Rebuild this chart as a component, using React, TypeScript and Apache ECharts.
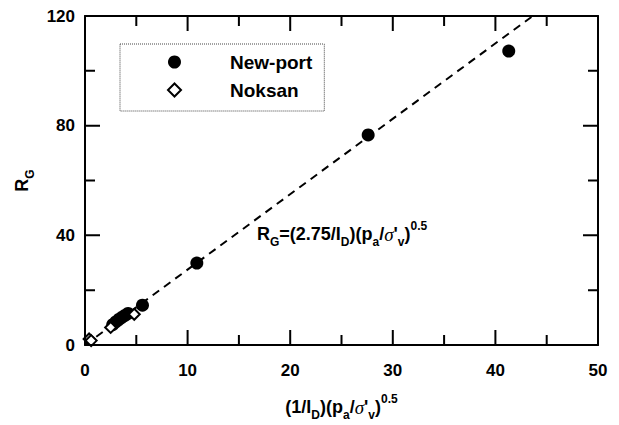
import React, { useEffect, useRef } from "react";
import * as echarts from "echarts";

const newportX = [2.7, 3.0, 3.3, 3.6, 3.9, 4.2, 5.6, 10.9, 27.6, 41.3];
const newportY = [7.4, 8.4, 9.3, 10.1, 10.8, 11.5, 14.5, 29.9, 76.6, 107.2];
const noksanX = [0.4, 0.6, 2.5, 4.8];
const noksanY = [2.2, 1.6, 6.4, 11.2];
const fitSlope = 2.75;
const xTicks = [0, 10, 20, 30, 40, 50];
const xMinorTicks = [5, 15, 25, 35, 45];
const yTicks = [0, 40, 80, 120];
const yMinorTicks = [20, 60, 100];

const FONT = "Arial, 'Liberation Sans', sans-serif";
const W = 619;
const H = 425;
const GRID = { left: 85, top: 16, right: 21, bottom: 80 };
const PLOT_W = W - GRID.left - GRID.right;
const PLOT_H = H - GRID.top - GRID.bottom;
const MAJOR_LEN = 15;
const MINOR_LEN = 10;

const richBase = {
  b: { fontSize: 18, fontWeight: "bold", fontFamily: FONT, lineHeight: 28, color: "#000" },
  sub: { fontSize: 12, fontWeight: "bold", fontFamily: FONT, lineHeight: 12, verticalAlign: "bottom", color: "#000" },
  sup: { fontSize: 12, fontWeight: "bold", fontFamily: FONT, lineHeight: 12, verticalAlign: "top", color: "#000" },
  sig: { fontSize: 19, fontStyle: "italic", fontFamily: "'Liberation Serif', 'DejaVu Serif', serif", lineHeight: 28, color: "#000" },
};

export default function App() {
  const ref = useRef<HTMLDivElement>(null);
  useEffect(() => {
    if (!ref.current) return;
    const chart = echarts.init(ref.current, undefined, { renderer: "svg" });
    const labelStyle = { fontSize: 17, fontWeight: "bold", fontFamily: FONT, color: "#000" };
    const xMin = xTicks[0];
    const xMax = xTicks[xTicks.length - 1];
    const yMin = yTicks[0];
    const yMax = yTicks[yTicks.length - 1];
    const xRange = { min: xMin, max: xMax, interval: 10 };
    const yRange = { min: yMin, max: yMax, interval: 40 };
    const mainLine = { show: true, onZero: false, lineStyle: { color: "#000", width: 2 } };

    // tick lengths expressed in data units of each axis
    const yPerPx = (yMax - yMin) / PLOT_H;
    const xPerPx = (xMax - xMin) / PLOT_W;

    const segs = (pairs: number[][][]) => {
      const out: any[] = [];
      pairs.forEach((p) => {
        out.push(p[0], p[1], "-");
      });
      return out;
    };
    const xAll = [
      ...xTicks.map((v) => [v, MAJOR_LEN]),
      ...xMinorTicks.map((v) => [v, MINOR_LEN]),
    ];
    const yAll = [
      ...yTicks.map((v) => [v, MAJOR_LEN]),
      ...yMinorTicks.map((v) => [v, MINOR_LEN]),
    ];
    const bottomTicks = segs(xAll.map(([v, l]) => [[v, yMin], [v, yMin + l * yPerPx]]));
    const topTicks = segs(xAll.map(([v, l]) => [[v, yMax], [v, yMax - l * yPerPx]]));
    const leftTicks = segs(yAll.map(([v, l]) => [[xMin, v], [xMin + l * xPerPx, v]]));
    const rightTicks = segs(yAll.map(([v, l]) => [[xMax, v], [xMax - l * xPerPx, v]]));

    const tickSeries = (name: string, data: any[]) => ({
      type: "line",
      name,
      data,
      symbol: "none",
      connectNulls: false,
      clip: false,
      silent: true,
      lineStyle: { color: "#000", width: 2, type: "solid" },
      z: 6,
    });

    chart.setOption({
      animation: false,
      backgroundColor: "#fff",
      grid: { ...GRID, containLabel: false, outerBoundsMode: "none" },
      xAxis: [
        {
          type: "value",
          ...xRange,
          position: "bottom",
          axisLine: mainLine,
          axisTick: { show: false },
          splitLine: { show: false },
          axisLabel: { ...labelStyle, margin: 17 },
          name: "{b|(1/I}{sub|D}{b|)(p}{sub|a}{b|/}{sig|σ}{b|'}{sub|v}{b|)}{sup|0.5}",
          nameLocation: "middle",
          nameGap: 48,
          nameTextStyle: { rich: richBase },
        },
        {
          type: "value",
          ...xRange,
          position: "top",
          axisLine: mainLine,
          axisTick: { show: false },
          splitLine: { show: false },
          axisLabel: { show: false },
        },
      ],
      yAxis: [
        {
          type: "value",
          ...yRange,
          position: "left",
          axisLine: mainLine,
          axisTick: { show: false },
          splitLine: { show: false },
          axisLabel: { ...labelStyle, margin: 10 },
          name: "{b|R}{sub|G}",
          nameLocation: "middle",
          nameGap: 40,
          nameRotate: 90,
          nameTextStyle: { rich: richBase },
        },
        {
          type: "value",
          ...yRange,
          position: "right",
          axisLine: mainLine,
          axisTick: { show: false },
          splitLine: { show: false },
          axisLabel: { show: false },
        },
      ],
      legend: {
        orient: "vertical",
        left: 120,
        top: 44,
        padding: [8, 12, 11, 47],
        itemGap: 8,
        itemWidth: 13,
        itemHeight: 13,
        borderColor: "#444",
        borderWidth: 1,
        borderType: "dotted",
        backgroundColor: "#fff",
        textStyle: { fontSize: 19, fontWeight: "bold", fontFamily: FONT, color: "#000", lineHeight: 20, padding: [0, 0, 0, 44] },
        data: [
          { name: "New-port", icon: "circle" },
          { name: "Noksan", icon: "diamond" },
        ],
      },
      series: [
        tickSeries("ticksBottom", bottomTicks),
        tickSeries("ticksTop", topTicks),
        tickSeries("ticksLeft", leftTicks),
        tickSeries("ticksRight", rightTicks),
        {
          type: "line",
          name: "fit",
          data: [
            [0, 0],
            [yMax / fitSlope, yMax],
          ],
          symbol: "none",
          lineStyle: { color: "#000", width: 2, type: [8, 6] },
          silent: true,
          z: 1,
        },
        {
          type: "scatter",
          name: "New-port",
          data: newportX.map((x, i) => [x, newportY[i]]),
          symbol: "circle",
          symbolSize: 13,
          itemStyle: { color: "#000", opacity: 1 },
          z: 3,
        },
        {
          type: "scatter",
          name: "Noksan",
          data: noksanX.map((x, i) => [x, noksanY[i]]),
          symbol: "diamond",
          symbolSize: 11,
          itemStyle: { color: "#fff", borderColor: "#000", borderWidth: 2, opacity: 1 },
          z: 4,
        },
      ],
      graphic: [
        {
          type: "text",
          left: 257,
          top: 220,
          style: {
            text: "{b|R}{sub|G}{b|=(2.75/I}{sub|D}{b|)(p}{sub|a}{b|/}{sig|σ}{b|'}{sub|v}{b|)}{sup|0.5}",
            rich: richBase,
          },
        },
      ],
    });
    return () => chart.dispose();
  }, []);
  return (
    <div
      ref={ref}
      style={{ position: "absolute", left: 0, top: 0, width: W, height: H }}
    />
  );
}
